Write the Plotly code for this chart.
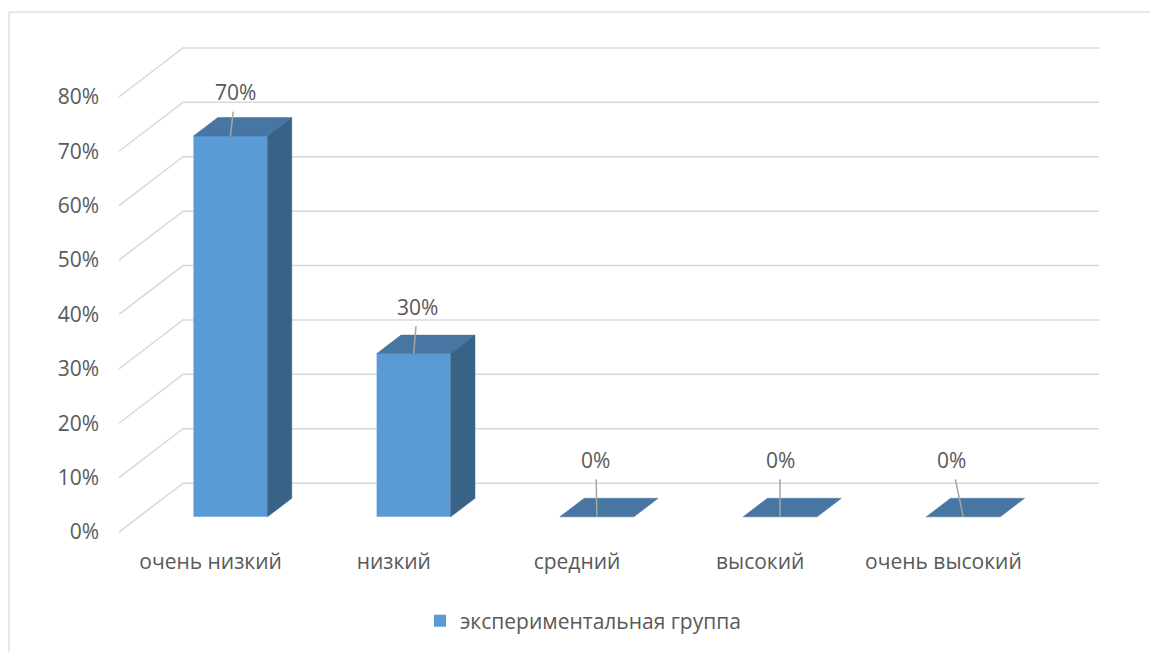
import plotly.graph_objects as go

# --- data -------------------------------------------------------------
categories = ["очень низкий", "низкий", "средний", "высокий", "очень высокий"]
values = [70, 30, 0, 0, 0]          # percent
value_labels = ["70%", "30%", "0%", "0%", "0%"]
series_name = "экспериментальная группа"
y_ticks = [0, 10, 20, 30, 40, 50, 60, 70, 80]
y_tick_text = ["0%", "10%", "20%", "30%", "40%", "50%", "60%", "70%", "80%"]

# --- oblique projection of the 3-D box --------------------------------
DX = 0.3494     # horizontal shift (category units) per unit of depth
DY = 8.99       # vertical shift (percent units) per unit of depth
D0, D1 = 0.31, 0.69   # front / back depth of the bars
HW = 0.202            # half width of a bar (category units)

FRONT = "#5b9bd5"
TOP = "#4676a1"
SIDE = "#386387"
GRID = "#d9d9d9"
TEXT = "#595959"
FONT = "Open Sans"
FS = 21


def proj(x, y, d):
    return x + d * DX, y + d * DY


fig = go.Figure()

# walls: left-side diagonals and back-wall gridlines
shapes = []
n = len(categories)
for v in y_ticks:
    x0, y0 = proj(0, v, 0)
    x1, y1 = proj(0, v, 1)
    x2, y2 = proj(n, v, 1)
    shapes.append(dict(type="path", layer="below",
                       path=f"M{x0},{y0} L{x1},{y1} L{x2},{y2}",
                       line=dict(color=GRID, width=1.5)))

# border of the chart area
shapes.append(dict(type="rect", xref="paper", yref="paper",
                   x0=(9 - 100) / 1020, x1=1.2, y0=-0.5, y1=(548 - 12) / 518,
                   line=dict(color=GRID, width=1.2), fillcolor="rgba(0,0,0,0)",
                   layer="below"))

# front faces of the bars
fig.add_trace(go.Bar(
    x=[i + 0.5 + D0 * DX for i in range(n)],
    y=values,
    base=[D0 * DY] * n,
    width=2 * HW,
    marker=dict(color=FRONT, line=dict(width=0)),
    name=series_name,
    showlegend=True,
    hoverinfo="skip",
))

# top and side faces
for i, v in enumerate(values):
    c = i + 0.5
    top = [proj(c - HW, v, D0), proj(c + HW, v, D0),
           proj(c + HW, v, D1), proj(c - HW, v, D1)]
    fig.add_trace(go.Scatter(
        x=[p[0] for p in top] + [top[0][0]],
        y=[p[1] for p in top] + [top[0][1]],
        fill="toself", fillcolor=TOP, mode="lines",
        line=dict(color=TOP, width=0.5), showlegend=False, hoverinfo="skip"))
    if v > 0:
        side = [proj(c + HW, 0, D0), proj(c + HW, v, D0),
                proj(c + HW, v, D1), proj(c + HW, 0, D1)]
        fig.add_trace(go.Scatter(
            x=[p[0] for p in side] + [side[0][0]],
            y=[p[1] for p in side] + [side[0][1]],
            fill="toself", fillcolor=SIDE, mode="lines",
            line=dict(color=SIDE, width=0.5), showlegend=False, hoverinfo="skip"))

# value labels with leader lines, pointing at the front-top of each bar
label_dx = [5, 4, -1, 0, -12]
label_dy = [-44, -47, -57, -57, -57]
annotations = []
for i, v in enumerate(values):
    ax_, ay_ = proj(i + 0.5, v, D0)
    annotations.append(dict(
        x=ax_, y=ay_, xref="x", yref="y", text=value_labels[i],
        showarrow=True, arrowhead=0, arrowwidth=1.5, arrowcolor="#a6a6a6",
        ax=label_dx[i], ay=label_dy[i], startstandoff=4,
        font=dict(family=FONT, size=FS, color=TEXT)))

px_per_x = 183.2
xmin = -19 / px_per_x
xmax = xmin + 1020 / px_per_x
ymin = -15 / 5.45
ymax = 80 + 67 / 5.45

fig.update_layout(
    width=1150, height=652,
    margin=dict(l=100, r=30, t=30, b=104),
    paper_bgcolor="white", plot_bgcolor="white",
    font=dict(family=FONT, size=FS, color=TEXT),
    shapes=shapes,
    annotations=annotations,
    barmode="overlay",
    xaxis=dict(range=[xmin, xmax], showgrid=False, zeroline=False, showline=False,
               tickvals=[i + 0.5 for i in range(n)], ticktext=categories,
               ticks="", tickfont=dict(family=FONT, size=FS, color=TEXT),
               fixedrange=True),
    yaxis=dict(range=[ymin, ymax], showgrid=False, zeroline=False, showline=False,
               tickvals=y_ticks, ticktext=y_tick_text, ticks="",
               tickfont=dict(family=FONT, size=FS, color=TEXT), fixedrange=True),
    legend=dict(orientation="h", x=(583 - 100) / 1020, xanchor="center",
                y=(548 - 621) / 518, yanchor="middle",
                font=dict(family=FONT, size=FS, color=TEXT)),
)

fig.write_html("out.html")
